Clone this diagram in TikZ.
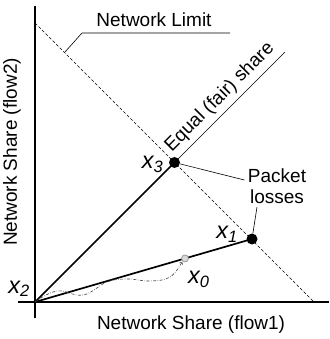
\documentclass[tikz,border=0pt]{standalone}
\usepackage{fontspec}
\setmainfont{Liberation Sans}
\usepackage{tikz}
\usetikzlibrary{arrows}

\begin{document}
\begin{tikzpicture}[x=1pt,y=1pt,
  axis/.style={line width=1.5pt},
  share/.style={line width=1.7pt},
  thinline/.style={line width=0.6pt},
  limit/.style={line width=0.6pt,dash pattern=on 3pt off 2pt},
  traj/.style={gray!50!black,line width=0.6pt,dash pattern=on 3pt off 1.5pt on 0.6pt off 1.5pt},
  lossdot/.style={circle,fill=black,inner sep=0pt,minimum size=11pt},
  startdot/.style={circle,draw=gray!80,fill=gray!30,inner sep=0pt,minimum size=7pt,line width=0.8pt},
  lbl/.style={font=\fontsize{19}{21}\selectfont},
  pt/.style={font=\fontsize{23.5}{25}\selectfont\itshape,inner sep=1pt}]
  \useasboundingbox (-35,-37) rectangle (294,302);
  % axes
  \coordinate (O) at (0,0);
  \coordinate (ytop) at (0,296);
  \coordinate (ybot) at (0,-16);
  \coordinate (xleft) at (-17,0);
  \coordinate (xright) at (294,0);
  \draw[axis] (ybot) -- (ytop);
  \draw[axis] (xleft) -- (xright);
  \node[lbl] (xlab) at (156,-23) {Network Share (flow1)};
  \node[lbl,rotate=90] (ylab) at (-23,150) {Network Share (flow2)};
  % network limit
  \coordinate (lim1) at (0,279);
  \coordinate (lim2) at (279,0);
  \draw[limit] (lim1) -- (lim2);
  \node[lbl] (nl) at (119,282) {Network Limit};
  \coordinate (nlr) at (195,269);
  \coordinate (nll) at (47,269);
  \coordinate (nlend) at (30,250);
  \draw[thinline] (nlr) -- (nll) -- (nlend);
  % shares
  \coordinate (p3) at (139.5,139.5);
  \coordinate (p1) at (217,63);
  \coordinate (p0) at (150,43.5);
  \coordinate (fairend) at (250,250);
  \draw[share] (O) -- (p3);
  \draw[thinline] (p3) -- (fairend) node[midway,sloped,above=1.5pt,lbl] {Equal (fair) share};
  \draw[share] (O) -- (p1);
  \draw[traj,->] plot[smooth,tension=0.7] coordinates {(0,0) (22,11) (48,7) (72,20) (92,23) (115,21) (135,25) (147,40)};
  \node[lossdot] (x3) at (p3) {};
  \node[lossdot] (x1) at (p1) {};
  \node[startdot] (x0) at (p0) {};
  % labels
  \node[pt,anchor=base east] (l3) at ([xshift=-10pt,yshift=-6pt]x3.center) {x\textsubscript{3}};
  \node[pt,anchor=base east] (l1) at ([xshift=-13pt]x1.center) {x\textsubscript{1}};
  \node[pt,anchor=base west] (l0) at ([xshift=2pt,yshift=-25pt]x0.center) {x\textsubscript{0}};
  \node[pt,anchor=base east] (l2) at ([xshift=-4pt,yshift=9pt]O) {x\textsubscript{2}};
  \node[lbl,align=center] (pl) at (242,116) {Packet\\losses};
  \draw[thinline] (x3) -- ([yshift=6pt]pl.west);
  \draw[thinline] (x1) -- ([xshift=-20pt]pl.south);
\end{tikzpicture}
\end{document}
